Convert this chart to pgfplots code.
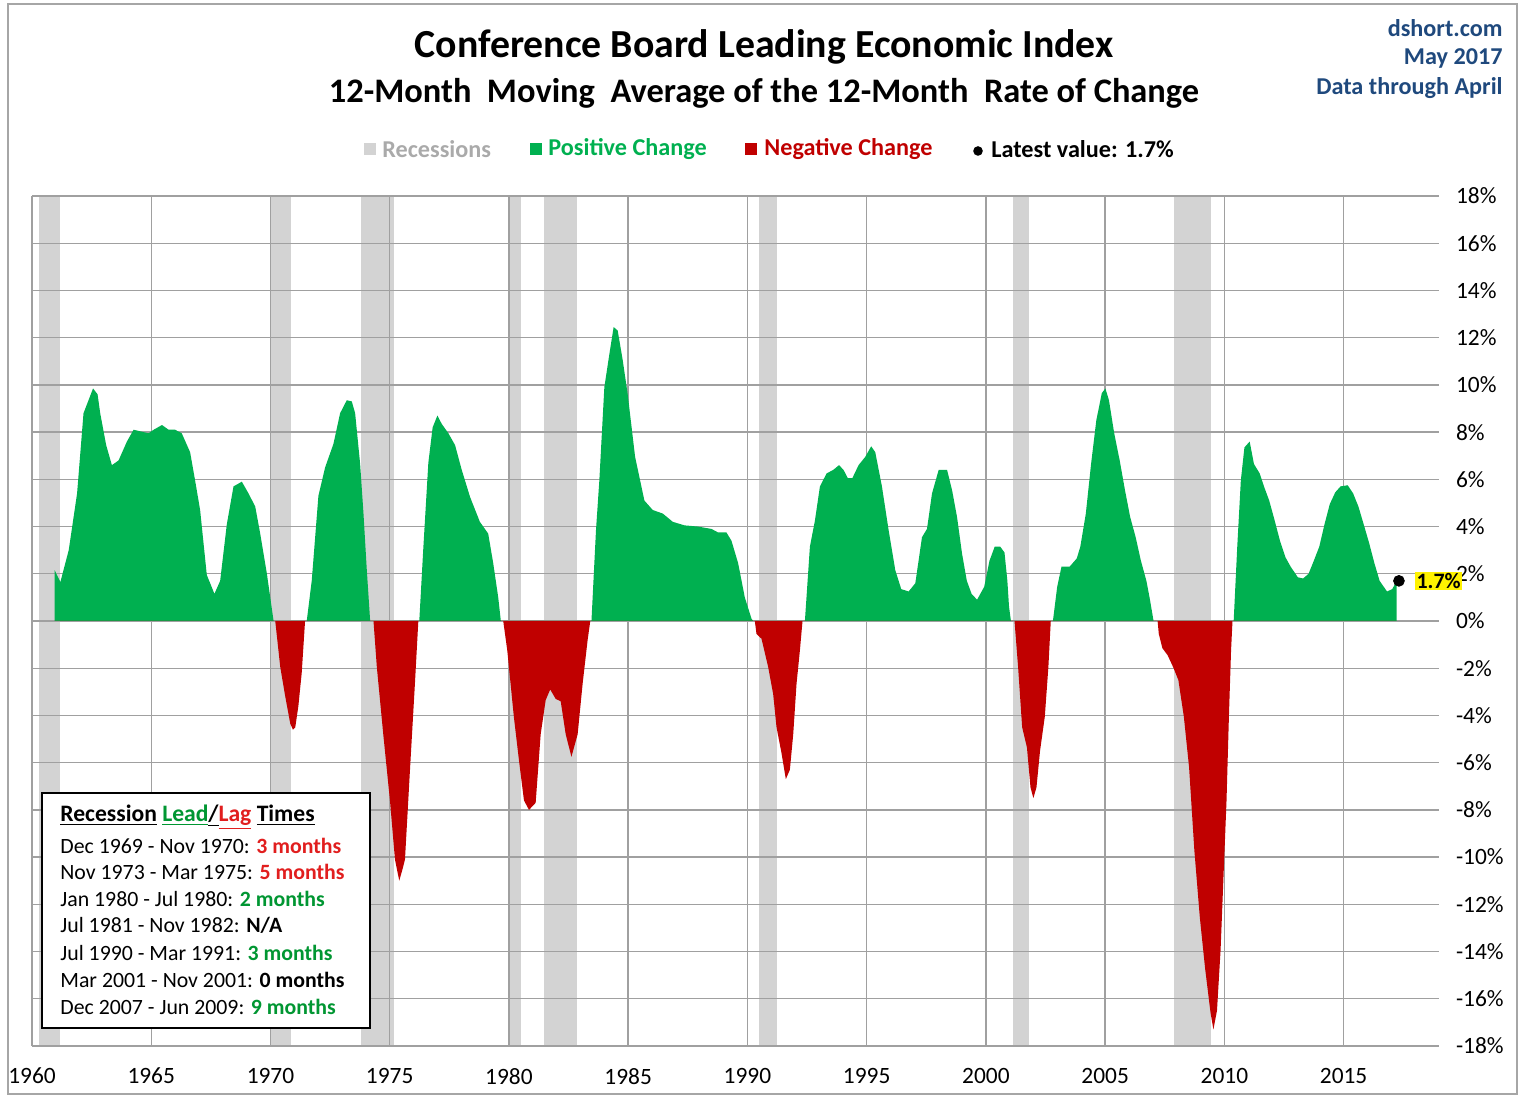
\documentclass[border=0pt]{standalone}
\usepackage{fontspec}
\setmainfont{Carlito}
\usepackage{pgfplots}
\usepackage{pgfplotstable}
\pgfplotsset{compat=1.18}

\definecolor{posgreen}{RGB}{0,176,80}
\definecolor{negred}{RGB}{192,0,0}
\definecolor{recgray}{RGB}{211,211,211}
\definecolor{gridgray}{RGB}{160,160,160}
\definecolor{dsblue}{RGB}{31,73,125}
\definecolor{leggray}{RGB}{170,170,170}
\definecolor{txtgreen}{RGB}{0,150,50}
\definecolor{txtred}{RGB}{225,30,30}

% 12-month moving average of the 12-month rate of change (%)
\pgfplotstableread{
t v
1960.95 2.15
1961.19 1.65
1961.54 3.0
1961.89 5.4
1962.16 8.8
1962.37 9.35
1962.56 9.85
1962.75 9.6
1962.86 8.8
1963.11 7.45
1963.35 6.6
1963.63 6.8
1963.98 7.6
1964.26 8.1
1964.68 8.0
1964.89 7.95
1965.10 8.1
1965.45 8.3
1965.73 8.1
1966.00 8.1
1966.28 7.95
1966.63 7.15
1966.84 5.95
1967.05 4.7
1967.33 1.95
1967.65 1.15
1967.89 1.7
1968.17 4.1
1968.45 5.7
1968.80 5.9
1969.08 5.4
1969.36 4.85
1969.57 3.7
1969.85 2.0
1970.13 0
1970.20 0
1970.41 -1.95
1970.62 -3.2
1970.83 -4.35
1970.94 -4.6
1971.04 -4.5
1971.17 -3.6
1971.31 -2.2
1971.45 0
1971.52 0
1971.73 1.7
1972.01 5.3
1972.29 6.5
1972.64 7.5
1972.92 8.8
1973.20 9.35
1973.41 9.3
1973.55 8.8
1973.76 6.65
1973.90 4.55
1974.04 2.15
1974.18 0
1974.32 0
1974.46 -1.95
1974.73 -4.8
1975.01 -7.6
1975.22 -10.1
1975.40 -11.0
1975.54 -10.5
1975.64 -10.1
1975.85 -6.3
1976.06 -2.6
1976.20 0
1976.24 0
1976.41 3.1
1976.62 6.7
1976.80 8.2
1977.00 8.7
1977.18 8.35
1977.46 7.95
1977.74 7.45
1978.02 6.4
1978.37 5.25
1978.78 4.2
1979.13 3.7
1979.34 2.45
1979.55 1.0
1979.66 0
1979.76 0
1979.93 -1.25
1980.21 -4.1
1980.42 -5.9
1980.63 -7.6
1980.84 -8.0
1981.12 -7.7
1981.33 -4.8
1981.54 -3.35
1981.73 -2.9
1981.96 -3.3
1982.17 -3.4
1982.38 -4.8
1982.62 -5.75
1982.88 -4.8
1983.09 -2.65
1983.30 -0.8
1983.41 0
1983.46 0
1983.65 3.85
1983.79 5.95
1984.00 9.9
1984.21 11.3
1984.39 12.45
1984.56 12.3
1984.77 11.05
1984.98 9.6
1985.29 6.95
1985.68 5.1
1986.03 4.7
1986.45 4.55
1986.87 4.2
1987.36 4.05
1987.92 4.0
1988.49 3.9
1988.77 3.75
1989.12 3.75
1989.33 3.4
1989.61 2.45
1989.89 1.0
1990.17 0.1
1990.24 0
1990.31 0
1990.38 -0.55
1990.59 -0.75
1990.87 -1.95
1991.08 -3.1
1991.22 -4.5
1991.43 -5.6
1991.61 -6.7
1991.78 -6.3
1991.92 -4.8
1992.06 -2.65
1992.20 -1.25
1992.31 0
1992.41 0
1992.62 3.15
1992.83 4.25
1993.04 5.7
1993.32 6.25
1993.60 6.4
1993.84 6.6
1994.03 6.4
1994.21 6.05
1994.40 6.05
1994.66 6.6
1994.94 6.95
1995.19 7.4
1995.36 7.15
1995.64 5.7
1995.92 3.85
1996.20 2.15
1996.45 1.35
1996.76 1.25
1997.04 1.6
1997.32 3.55
1997.53 3.9
1997.74 5.4
1998.02 6.4
1998.37 6.4
1998.58 5.55
1998.79 4.4
1999.00 2.85
1999.20 1.7
1999.40 1.15
1999.63 0.9
1999.93 1.45
2000.15 2.55
2000.37 3.15
2000.60 3.15
2000.78 2.9
2000.90 1.7
2000.97 0.6
2001.05 0
2001.20 0
2001.35 -1.95
2001.52 -4.5
2001.72 -5.35
2001.87 -7.05
2001.99 -7.5
2002.12 -7.05
2002.27 -5.5
2002.47 -4.05
2002.62 -1.95
2002.72 0
2002.81 0
2002.99 1.45
2003.17 2.3
2003.51 2.3
2003.81 2.65
2003.96 3.15
2004.19 4.55
2004.41 6.65
2004.63 8.5
2004.86 9.65
2005.01 9.85
2005.16 9.35
2005.38 7.95
2005.61 6.8
2005.83 5.55
2006.05 4.4
2006.28 3.55
2006.50 2.55
2006.73 1.7
2006.88 0.9
2007.03 0
2007.20 0
2007.25 -0.55
2007.40 -1.15
2007.62 -1.45
2007.85 -1.95
2008.07 -2.5
2008.30 -4.05
2008.52 -6.2
2008.74 -9.7
2008.97 -12.55
2009.19 -14.7
2009.42 -16.6
2009.54 -17.3
2009.69 -16.5
2009.84 -13.95
2009.98 -10.4
2010.09 -7.6
2010.19 -4.05
2010.28 -1.25
2010.34 0
2010.39 0
2010.54 3.15
2010.69 5.95
2010.84 7.35
2011.06 7.6
2011.24 6.65
2011.48 6.25
2011.66 5.7
2011.88 5.1
2012.11 4.25
2012.33 3.4
2012.56 2.7
2012.78 2.3
2013.08 1.85
2013.30 1.8
2013.53 2.0
2013.75 2.55
2013.98 3.15
2014.20 4.1
2014.42 4.95
2014.65 5.45
2014.87 5.7
2015.17 5.75
2015.40 5.4
2015.62 4.85
2015.84 4.1
2016.07 3.3
2016.29 2.45
2016.51 1.7
2016.82 1.25
2017.04 1.35
2017.22 1.7
}\lei

\begin{document}
\begin{tikzpicture}
% frame in pixel units of the reference (1 px = 0.5 pt), origin = plot area lower left at px (32,1046)
\begin{scope}[x=0.5pt, y=-0.5pt, shift={(-16pt,523pt)}]
  \useasboundingbox (0,0) rectangle (1520,1096);
  \draw[gray!70, line width=0.6pt] (8,4) rectangle (1517,1094);
\end{scope}

\begin{axis}[
    set layers,
    at={(0,0)}, anchor=south west,
    scale only axis, width=703.5pt, height=425pt,
    xmin=1960, xmax=2019, ymin=-18, ymax=18,
    xtick={1960,1965,...,2015}, ytick={-18,-16,...,18},
    grid=major, major grid style={draw=gridgray, line width=0.7pt},
    axis line style={draw=none}, tick style={draw=none},
    yticklabel pos=right,
    /pgf/number format/assume math mode=true,
    x tick label style={/pgf/number format/1000 sep={}, font=\fontsize{11.7}{13}\selectfont, yshift=-7.5pt},
    y tick label style={font=\fontsize{11.7}{13}\selectfont, anchor=west, xshift=5pt},
    yticklabel={\pgfmathprintnumber{\tick}\%},
    clip=false,
]
% recession bands
\addplot[on layer=axis background, draw=none, fill=recgray] coordinates {(1960.28,-18) (1960.28,18) (1961.16,18) (1961.16,-18)} -- cycle;
\addplot[on layer=axis background, draw=none, fill=recgray] coordinates {(1969.96,-18) (1969.96,18) (1970.88,18) (1970.88,-18)} -- cycle;
\addplot[on layer=axis background, draw=none, fill=recgray] coordinates {(1973.80,-18) (1973.80,18) (1975.20,18) (1975.20,-18)} -- cycle;
\addplot[on layer=axis background, draw=none, fill=recgray] coordinates {(1980.00,-18) (1980.00,18) (1980.52,18) (1980.52,-18)} -- cycle;
\addplot[on layer=axis background, draw=none, fill=recgray] coordinates {(1981.47,-18) (1981.47,18) (1982.87,18) (1982.87,-18)} -- cycle;
\addplot[on layer=axis background, draw=none, fill=recgray] coordinates {(1990.48,-18) (1990.48,18) (1991.22,18) (1991.22,-18)} -- cycle;
\addplot[on layer=axis background, draw=none, fill=recgray] coordinates {(2001.12,-18) (2001.12,18) (2001.82,18) (2001.82,-18)} -- cycle;
\addplot[on layer=axis background, draw=none, fill=recgray] coordinates {(2007.88,-18) (2007.88,18) (2009.45,18) (2009.45,-18)} -- cycle;

% positive and negative parts of the same series
\addplot[draw=none, fill=posgreen] table[x=t, y expr={max(\thisrow{v},0)}] {\lei} \closedcycle;
\addplot[draw=none, fill=negred] table[x=t, y expr={min(\thisrow{v},0)}] {\lei} \closedcycle;

% latest value
\addplot[only marks, mark=*, mark size=2.7pt, black] coordinates {(2017.32,1.7)};
\node[anchor=west, fill=yellow, inner sep=0.6pt, font=\bfseries\fontsize{11}{12}\selectfont, xshift=8pt] at (axis cs:2017.32,1.7) {1.7\%};
\end{axis}

\begin{scope}[x=0.5pt, y=-0.5pt, shift={(-16pt,523pt)}]
  % titles
  \node[font=\bfseries\fontsize{19.9}{22}\selectfont] at (764,47) {Conference Board Leading Economic Index};
  \node[font=\bfseries\fontsize{17.2}{19}\selectfont] at (764,93) {12-Month\ \ Moving\ \ Average of the 12-Month\ \ Rate of Change};
  \node[anchor=east, inner sep=0, font=\bfseries\fontsize{12.1}{14}\selectfont, text=dsblue] at (1503,28) {dshort.com};
  \node[anchor=east, inner sep=0, font=\bfseries\fontsize{12.1}{14}\selectfont, text=dsblue] at (1503,58) {May 2017};
  \node[anchor=east, inner sep=0, font=\bfseries\fontsize{12.1}{14}\selectfont, text=dsblue] at (1503,88) {Data through April};
  % legend
  \fill[recgray] (364,143) rectangle (376,155);
  \node[anchor=west, inner sep=0, font=\bfseries\fontsize{12.1}{14}\selectfont, text=leggray] at (382,149) {Recessions};
  \fill[posgreen] (530,143) rectangle (542,155);
  \node[anchor=west, inner sep=0, font=\bfseries\fontsize{12.1}{14}\selectfont, text=posgreen] at (548,149) {Positive Change};
  \fill[negred] (745,143) rectangle (757,155);
  \node[anchor=west, inner sep=0, font=\bfseries\fontsize{12.1}{14}\selectfont, text=negred] at (764,149) {Negative Change};
  \fill[black] (978,151) circle[radius=2.4pt];
  \node[anchor=west, inner sep=0, font=\bfseries\fontsize{12.1}{14}\selectfont] at (991,149) {Latest value: 1.7\%};
  % lead/lag box
  \draw[fill=white, line width=1.3pt] (42,793) rectangle (370,1028);
  \node[anchor=west, inner sep=0, font=\bfseries\fontsize{11.8}{14}\selectfont] at (60,817)
    {\underline{Recession} \textcolor{txtgreen}{\underline{Lead}}\underline{/}\textcolor{txtred}{\underline{Lag}} \underline{Times}};
  \begin{scope}[every node/.style={anchor=west, inner sep=0, font=\fontsize{10.9}{13}\selectfont}]
    \node at (60,846) {Dec 1969 - Nov 1970: \textcolor{txtred}{\bfseries 3 months}};
    \node at (60,872) {Nov 1973 - Mar 1975: \textcolor{txtred}{\bfseries 5 months}};
    \node at (60,899) {Jan 1980 - Jul 1980: \textcolor{txtgreen}{\bfseries 2 months}};
    \node at (60,925) {Jul 1981 - Nov 1982: \textbf{N/A}};
    \node at (60,953) {Jul 1990 - Mar 1991: \textcolor{txtgreen}{\bfseries 3 months}};
    \node at (60,980) {Mar 2001 - Nov 2001: \textbf{0 months}};
    \node at (60,1007) {Dec 2007 - Jun 2009: \textcolor{txtgreen}{\bfseries 9 months}};
  \end{scope}
\end{scope}
\end{tikzpicture}
\end{document}
